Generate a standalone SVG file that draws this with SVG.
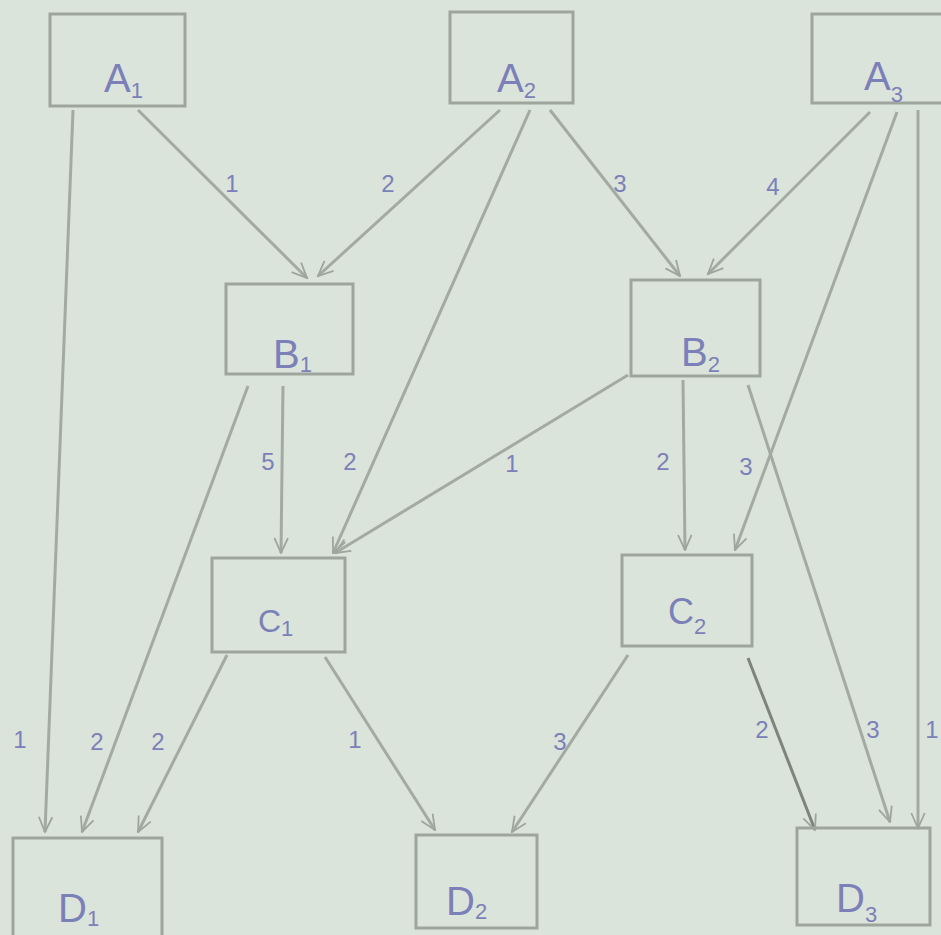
<svg xmlns="http://www.w3.org/2000/svg" width="941" height="935" viewBox="0 0 941 935">
<style>
.bg{fill:#dbe4da}
.node rect{fill:none;stroke:#9ea59d;stroke-width:3}
.node text{font-family:"Liberation Sans",Arial,sans-serif;fill:#7c80b8;font-size:40px}
.node .sub{font-size:22px}
.edges line{stroke:#a3aaa2;stroke-width:3;marker-end:url(#arr)}
.edges .dark{stroke:#7d847d}
.elabel{font-family:"Liberation Sans",Arial,sans-serif;fill:#7c80b8;font-size:24px;text-anchor:middle}
</style>
<defs>
<marker id="arr" viewBox="0 0 12 12" refX="11" refY="6" markerWidth="18" markerHeight="18" orient="auto" markerUnits="userSpaceOnUse">
<path d="M1,1.5 L11,6 L1,10.5" fill="none" stroke="#9ea59d" stroke-width="1.2"/>
</marker>
</defs>
<rect class="bg" x="0" y="0" width="941" height="935"/>
<g id="edges" class="edges">
<line x1="73" y1="110" x2="45" y2="832"/>
<line x1="138" y1="110" x2="307" y2="278"/>
<line x1="500" y1="110" x2="318" y2="276"/>
<line x1="530" y1="110" x2="333" y2="553"/>
<line x1="550" y1="110" x2="680" y2="276"/>
<line x1="870" y1="112" x2="708" y2="274"/>
<line x1="897" y1="112" x2="735" y2="550"/>
<line x1="918" y1="110" x2="918" y2="828"/>
<line x1="248" y1="386" x2="82" y2="832"/>
<line x1="283" y1="386" x2="281" y2="553"/>
<line x1="628" y1="375" x2="335" y2="553"/>
<line x1="683" y1="380" x2="685" y2="550"/>
<line x1="748" y1="385" x2="890" y2="822"/>
<line x1="227" y1="655" x2="138" y2="832"/>
<line x1="325" y1="657" x2="435" y2="830"/>
<line x1="628" y1="655" x2="512" y2="832"/>
<line class="dark" x1="748" y1="658" x2="815" y2="830"/>
</g>
<g id="edge-labels">
<text class="elabel" x="20" y="748">1</text>
<text class="elabel" x="232" y="192">1</text>
<text class="elabel" x="388" y="192">2</text>
<text class="elabel" x="350" y="470">2</text>
<text class="elabel" x="620" y="192">3</text>
<text class="elabel" x="773" y="195">4</text>
<text class="elabel" x="746" y="475">3</text>
<text class="elabel" x="932" y="738">1</text>
<text class="elabel" x="97" y="750">2</text>
<text class="elabel" x="268" y="470">5</text>
<text class="elabel" x="512" y="472">1</text>
<text class="elabel" x="663" y="470">2</text>
<text class="elabel" x="873" y="738">3</text>
<text class="elabel" x="158" y="750">2</text>
<text class="elabel" x="355" y="748">1</text>
<text class="elabel" x="560" y="750">3</text>
<text class="elabel" x="762" y="738">2</text>
</g>
<g id="A1" class="node"><rect x="50" y="14" width="135" height="92"/><text x="104" y="92">A<tspan class="sub" dy="6">1</tspan></text></g>
<g id="A2" class="node"><rect x="450" y="12" width="123" height="91"/><text x="497" y="92">A<tspan class="sub" dy="6">2</tspan></text></g>
<g id="A3" class="node"><rect x="812" y="14" width="135" height="89"/><text x="864" y="90">A<tspan class="sub" dy="12">3</tspan></text></g>
<g id="B1" class="node"><rect x="226" y="284" width="127" height="90"/><text x="273" y="368">B<tspan class="sub" dy="4">1</tspan></text></g>
<g id="B2" class="node"><rect x="631" y="280" width="129" height="96"/><text x="681" y="366">B<tspan class="sub" dy="6">2</tspan></text></g>
<g id="C1" class="node"><rect x="212" y="558" width="133" height="94"/><text x="258" y="632" style="font-size:32px">C<tspan class="sub" dy="4">1</tspan></text></g>
<g id="C2" class="node"><rect x="622" y="555" width="130" height="91"/><text x="668" y="624" style="font-size:36px">C<tspan class="sub" dy="10">2</tspan></text></g>
<g id="D1" class="node"><rect x="13" y="838" width="149" height="100"/><text x="58" y="922">D<tspan class="sub" dy="4">1</tspan></text></g>
<g id="D2" class="node"><rect x="416" y="835" width="121" height="93"/><text x="446" y="915">D<tspan class="sub" dy="4">2</tspan></text></g>
<g id="D3" class="node"><rect x="797" y="828" width="133" height="97"/><text x="836" y="912">D<tspan class="sub" dy="10">3</tspan></text></g>
</svg>
